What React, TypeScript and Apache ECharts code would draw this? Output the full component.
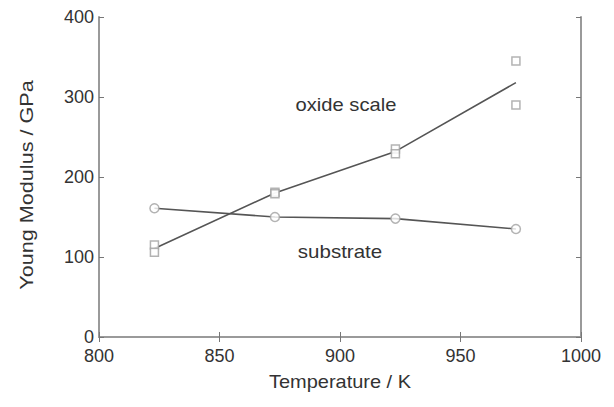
import React, { useEffect, useRef } from "react";
import * as echarts from "echarts";

const xTicks = [800, 850, 900, 950, 1000];
const yTicks = [0, 100, 200, 300, 400];

// oxide scale measurements (open squares)
const oxideX = [823, 823, 873, 873, 923, 923, 973, 973];
const oxideY = [115, 106, 181, 179, 235, 229, 345, 290];
// oxide scale trend line (through mean values)
const oxideLineX = [823, 873, 923, 973];
const oxideLineY = [110.5, 180, 232, 318];

// substrate measurements (open circles)
const subX = [823, 873, 923, 973];
const subY = [161, 150, 148, 135];

const labelOxide = "oxide scale";
const labelSub = "substrate";
const xTitle = "Temperature / K";
const yTitle = "Young Modulus / GPa";

export default function App() {
  const ref = useRef<HTMLDivElement>(null);
  useEffect(() => {
    document.body.style.margin = "0";
    const chart = echarts.init(ref.current!, null, { renderer: "svg" });
    const axisColor = "#9a9a9a";
    const textColor = "#333";
    const font = "Liberation Sans, Arial, sans-serif";
    const lineStyleAxis = { color: axisColor, width: 2 };
    const tick = { show: true, inside: true, length: 5, lineStyle: { color: "#777", width: 1 } };
    chart.setOption({
      animation: false,
      backgroundColor: "#fff",
      grid: { left: 99, right: 33, top: 17, bottom: 70 },
      xAxis: [
        {
          type: "value",
          min: xTicks[0],
          max: xTicks[xTicks.length - 1],
          interval: 50,
          position: "bottom",
          axisLine: { show: true, lineStyle: lineStyleAxis },
          axisTick: tick,
          axisLabel: {
            color: textColor,
            fontSize: 18,
            fontFamily: font,
            margin: 10,
            formatter: (v: number) => String(v),
          },
          splitLine: { show: false },
        },
        {
          type: "value",
          min: xTicks[0],
          max: xTicks[xTicks.length - 1],
          interval: 50,
          position: "top",
          axisLine: { show: true, lineStyle: lineStyleAxis },
          axisTick: tick,
          axisLabel: { show: false },
          splitLine: { show: false },
        },
      ],
      yAxis: [
        {
          type: "value",
          min: yTicks[0],
          max: yTicks[yTicks.length - 1],
          interval: 100,
          position: "left",
          axisLine: { show: true, lineStyle: lineStyleAxis },
          axisTick: tick,
          axisLabel: {
            color: textColor,
            fontSize: 18,
            fontFamily: font,
            margin: 5,
            formatter: (v: number) => String(v),
          },
          splitLine: { show: false },
        },
        {
          type: "value",
          min: yTicks[0],
          max: yTicks[yTicks.length - 1],
          interval: 100,
          position: "right",
          axisLine: { show: true, lineStyle: lineStyleAxis },
          axisTick: tick,
          axisLabel: { show: false },
          splitLine: { show: false },
        },
      ],
      series: [
        {
          type: "line",
          data: oxideLineX.map((x, i) => [x, oxideLineY[i]]),
          showSymbol: false,
          lineStyle: { color: "#555", width: 1.6 },
          z: 2,
        },
        {
          type: "line",
          data: subX.map((x, i) => [x, subY[i]]),
          showSymbol: false,
          lineStyle: { color: "#555", width: 1.6 },
          z: 2,
        },
        {
          type: "scatter",
          data: oxideX.map((x, i) => [x, oxideY[i]]),
          symbol: "rect",
          symbolSize: 8,
          itemStyle: { color: "#fff", borderColor: "#a0a0a0", borderWidth: 1.5 },
          z: 3,
        },
        {
          type: "scatter",
          data: subX.map((x, i) => [x, subY[i]]),
          symbol: "circle",
          symbolSize: 9,
          itemStyle: { color: "#fff", borderColor: "#a0a0a0", borderWidth: 1.5 },
          z: 4,
        },
      ],
      graphic: [
        {
          type: "text",
          x: 346,
          y: 105,
          scaleX: 1.12,
          style: {
            text: labelOxide,
            fill: textColor,
            fontSize: 18,
            fontFamily: font,
            textAlign: "center",
            textVerticalAlign: "middle",
          },
        },
        {
          type: "text",
          x: 340,
          y: 252,
          scaleX: 1.14,
          style: {
            text: labelSub,
            fill: textColor,
            fontSize: 18,
            fontFamily: font,
            textAlign: "center",
            textVerticalAlign: "middle",
          },
        },
        {
          type: "text",
          x: 340,
          y: 382,
          scaleX: 1.11,
          style: {
            text: xTitle,
            fill: textColor,
            fontSize: 18,
            fontFamily: font,
            textAlign: "center",
            textVerticalAlign: "middle",
          },
        },
        {
          type: "text",
          x: 27,
          y: 185,
          rotation: Math.PI / 2,
          scaleX: 1.2,
          style: {
            text: yTitle,
            fill: textColor,
            fontSize: 18,
            fontFamily: font,
            textAlign: "center",
            textVerticalAlign: "middle",
          },
        },
      ],
    });
    return () => chart.dispose();
  }, []);
  return <div ref={ref} style={{ width: 614, height: 407 }} />;
}
